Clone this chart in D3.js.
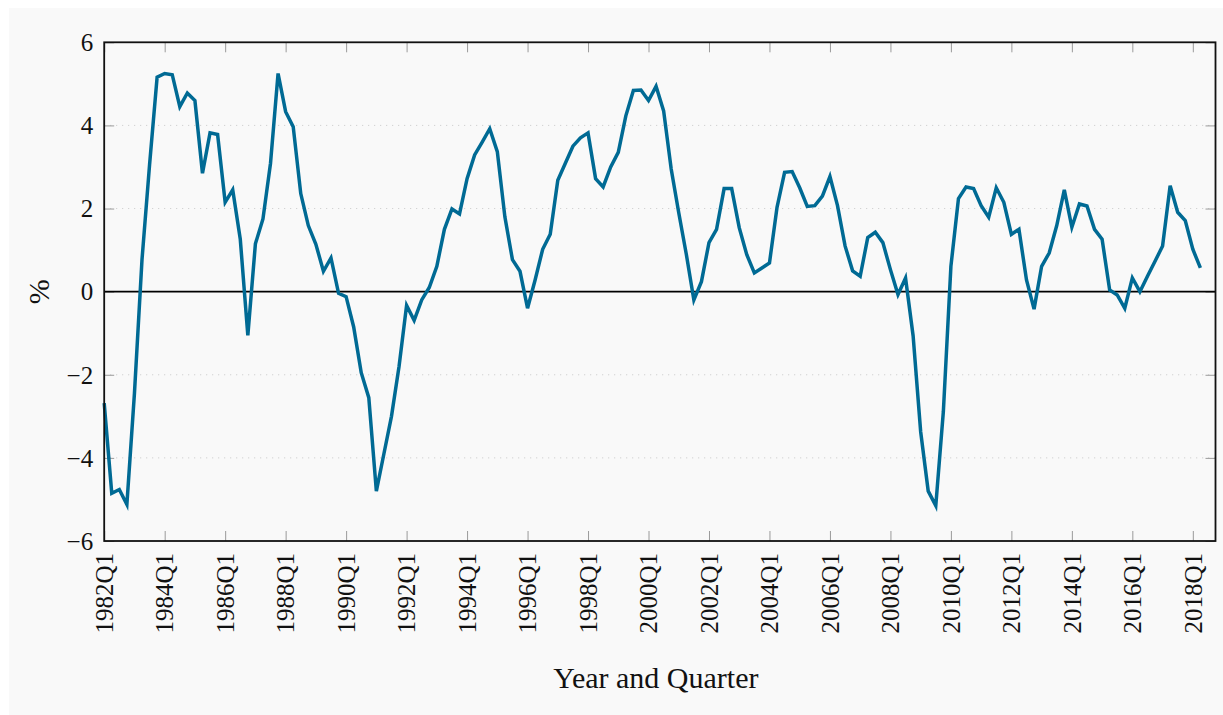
<!DOCTYPE html>
<html>
<head>
<meta charset="utf-8">
<script src="https://cdn.jsdelivr.net/npm/d3@7"></script>
<style>
  body { margin: 0; background: #ffffff; }
  svg { display: block; }
</style>
</head>
<body>
<div id="chart"></div>
<script>
var svgWidth = 1223;
var svgHeight = 715;
var margin = { top: 42.3, right: 7.5, bottom: 174, left: 104.2 };
var serif = "'Liberation Serif', 'Times New Roman', Times, serif";

var width = svgWidth - margin.left - margin.right;
var height = svgHeight - margin.top - margin.bottom;

// Categories: quarters from 1982Q1 to 2018Q2
var startYear = 1982;
var quarters = [];
for (var y = startYear; y <= 2018; y++) {
  for (var q = 1; q <= 4; q++) {
    if (y === 2018 && q > 2) break;
    quarters.push(y + "Q" + q);
  }
}

// Series values (%)
var growth = [
  -2.68, -4.85, -4.76, -5.12, -2.45, 0.77, 3.05, 5.16,
  5.25, 5.22, 4.45, 4.78, 4.6, 2.85, 3.82, 3.78,
  2.15, 2.45, 1.26, -1.05, 1.15, 1.75, 3.09, 5.25,
  4.33, 3.97, 2.36, 1.59, 1.14, 0.49, 0.81, -0.04,
  -0.12, -0.85, -1.95, -2.55, -4.8, -3.9, -3.0, -1.8,
  -0.33, -0.69, -0.2, 0.1, 0.61, 1.5, 1.99, 1.87,
  2.72, 3.29, 3.6, 3.92, 3.37, 1.8, 0.77, 0.49,
  -0.4, 0.28, 1.02, 1.38, 2.68, 3.09, 3.5, 3.7,
  3.82, 2.72, 2.52, 3.0, 3.35, 4.23, 4.84, 4.85,
  4.6, 4.94, 4.35, 2.95, 1.9, 0.9, -0.2, 0.24,
  1.18, 1.5, 2.48, 2.48, 1.54, 0.89, 0.45, 0.57,
  0.69, 2.03, 2.87, 2.89, 2.5, 2.05, 2.07, 2.3,
  2.77, 2.07, 1.1, 0.5, 0.37, 1.3, 1.43, 1.18,
  0.53, -0.07, 0.33, -1.06, -3.37, -4.8, -5.15, -2.89,
  0.61, 2.24, 2.52, 2.48, 2.07, 1.79, 2.5, 2.15,
  1.38, 1.5, 0.28, -0.42, 0.61, 0.93, 1.59, 2.45,
  1.55, 2.11, 2.06, 1.5, 1.26, 0.04, -0.08, -0.4,
  0.33, 0.0, 0.37, 0.73, 1.1, 2.55, 1.91, 1.71,
  1.02, 0.57
];

// Tick labels
var xTickLabels = ["1982Q1", "1984Q1", "1986Q1", "1988Q1", "1990Q1", "1992Q1",
  "1994Q1", "1996Q1", "1998Q1", "2000Q1", "2002Q1", "2004Q1", "2006Q1",
  "2008Q1", "2010Q1", "2012Q1", "2014Q1", "2016Q1", "2018Q1"];
var yTicks = [-6, -4, -2, 0, 2, 4, 6];

var data = quarters.map(function (d, i) {
  return { quarter: d, idx: i, value: growth[i] };
});

var svg = d3.select("#chart")
  .append("svg")
  .attr("width", svgWidth)
  .attr("height", svgHeight);

// figure background
svg.append("rect")
  .attr("x", 9)
  .attr("y", 8)
  .attr("width", svgWidth - 9)
  .attr("height", svgHeight - 8)
  .attr("fill", "#f9f9f9");

var chartGroup = svg.append("g")
  .attr("transform", `translate(${margin.left}, ${margin.top})`);

// Scales
var xScale = d3.scaleLinear()
  .domain([0, 147])
  .range([0, width]);

var yScale = d3.scaleLinear()
  .domain([-6, 6])
  .range([height, 0]);

var xTickIdx = xTickLabels.map(function (l) { return quarters.indexOf(l); });

// dotted horizontal grid
chartGroup.selectAll(".grid")
  .data(yTicks.filter(function (t) { return t !== 0 && Math.abs(t) !== 6; }))
  .enter()
  .append("line")
  .attr("x1", 0)
  .attr("x2", width)
  .attr("y1", d => yScale(d))
  .attr("y2", d => yScale(d))
  .attr("stroke", "#c8c8c8")
  .attr("stroke-width", 1)
  .attr("stroke-dasharray", "1,5");

// inside ticks, all four sides
var tickLen = 10;
var bottomAxis = d3.axisBottom(xScale).tickValues(xTickIdx).tickSize(-tickLen).tickFormat("");
var topAxis = d3.axisTop(xScale).tickValues(xTickIdx).tickSize(-tickLen).tickFormat("");
var leftAxis = d3.axisLeft(yScale).tickValues(yTicks).tickSize(-tickLen).tickFormat("");
var rightAxis = d3.axisRight(yScale).tickValues(yTicks).tickSize(-tickLen).tickFormat("");

function styleTicks(g) {
  g.select(".domain").remove();
  g.selectAll(".tick line").attr("stroke", "#9a9a9a").attr("stroke-width", 1);
}

chartGroup.append("g").attr("transform", `translate(0, ${height})`).call(bottomAxis).call(styleTicks);
chartGroup.append("g").call(topAxis).call(styleTicks);
chartGroup.append("g").call(leftAxis).call(styleTicks);
chartGroup.append("g").attr("transform", `translate(${width}, 0)`).call(rightAxis).call(styleTicks);

// zero line
chartGroup.append("line")
  .attr("x1", 0)
  .attr("x2", width)
  .attr("y1", yScale(0))
  .attr("y2", yScale(0))
  .attr("stroke", "#000")
  .attr("stroke-width", 1.8);

// series line
var line = d3.line()
  .x(d => xScale(d.idx))
  .y(d => yScale(d.value));

chartGroup.append("path")
  .datum(data)
  .attr("d", line)
  .attr("fill", "none")
  .attr("stroke", "#006a94")
  .attr("stroke-width", 3.5)
  .attr("stroke-linejoin", "miter");

// axis box
chartGroup.append("rect")
  .attr("x", 0)
  .attr("y", 0)
  .attr("width", width)
  .attr("height", height)
  .attr("fill", "none")
  .attr("stroke", "#111")
  .attr("stroke-width", 1.8);

// y tick labels
chartGroup.selectAll(".ylab")
  .data(yTicks)
  .enter()
  .append("text")
  .attr("x", -11)
  .attr("y", d => yScale(d))
  .attr("dy", "0.35em")
  .style("font-family", serif)
  .style("font-size", "25px")
  .style("fill", "#111")
  .style("text-anchor", "end")
  .text(d => d < 0 ? "\u2212" + Math.abs(d) : d);

// x tick labels, rotated
chartGroup.selectAll(".xlab")
  .data(xTickLabels)
  .enter()
  .append("text")
  .attr("transform", (d, i) => `translate(${xScale(xTickIdx[i])}, ${height + 12}) rotate(-90)`)
  .attr("dy", "0.35em")
  .style("font-family", serif)
  .style("font-size", "25px")
  .style("fill", "#111")
  .style("text-anchor", "end")
  .text(d => d);

// axis labels
chartGroup.append("text")
  .attr("transform", `translate(${width / 2 - 4}, ${height + 147})`)
  .style("font-family", serif)
  .style("font-size", "30px")
  .style("fill", "#111")
  .style("text-anchor", "middle")
  .text("Year and Quarter");

chartGroup.append("text")
  .attr("transform", `translate(${-55}, ${yScale(0)}) rotate(-90)`)
  .style("font-family", serif)
  .style("font-size", "30px")
  .style("fill", "#111")
  .style("text-anchor", "middle")
  .text("%");
</script>
</body>
</html>
